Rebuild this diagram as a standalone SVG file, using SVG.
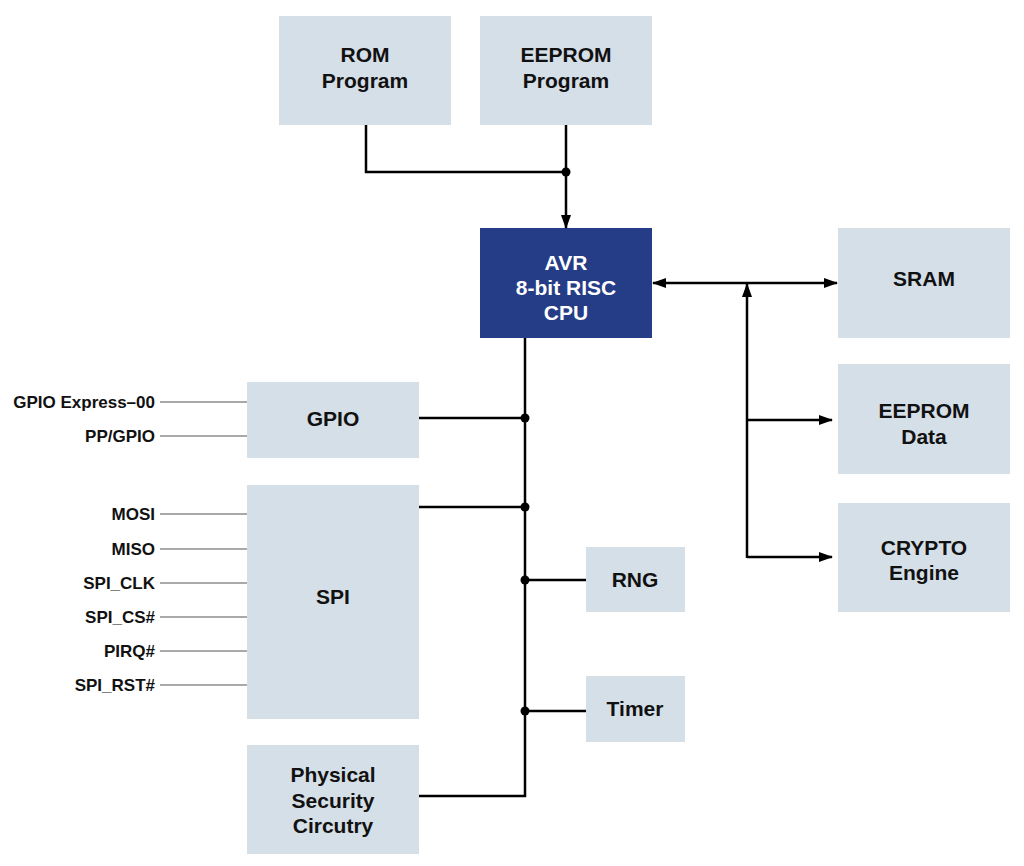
<svg xmlns="http://www.w3.org/2000/svg" width="1024" height="866" viewBox="0 0 1024 866">
<style>
.box{fill:#D5DFE8}
.cpu{fill:#253C87}
.t{font-family:"Liberation Sans",Arial,sans-serif;font-weight:bold;font-size:21px;fill:#111;text-anchor:middle}
.tw{fill:#fff}
.lbl{font-family:"Liberation Sans",Arial,sans-serif;font-weight:bold;font-size:17px;fill:#111;text-anchor:end}
.w{stroke:#000;stroke-width:2.5;fill:none}
.pin{stroke:#555;stroke-width:1.2;fill:none}
</style>
<defs>
<marker id="ah" markerWidth="14" markerHeight="10" refX="13" refY="5" orient="auto-start-reverse" markerUnits="userSpaceOnUse">
<path d="M0,0 L14,5 L0,10 z" fill="#000"/>
</marker>
</defs>
<rect width="1024" height="866" fill="#fff"/>
<g id="rom"><rect class="box" x="279" y="16" width="172" height="109"/><text class="t" x="365" y="62">ROM</text><text class="t" x="365" y="88">Program</text></g>
<g id="eeprom-prog"><rect class="box" x="480" y="16" width="172" height="109"/><text class="t" x="566" y="62">EEPROM</text><text class="t" x="566" y="88">Program</text></g>
<g id="cpu"><rect class="cpu" x="480" y="228" width="172" height="110"/><text class="t tw" x="566" y="270">AVR</text><text class="t tw" x="566" y="295">8-bit RISC</text><text class="t tw" x="566" y="320">CPU</text></g>
<g id="sram"><rect class="box" x="838" y="228" width="172" height="110"/><text class="t" x="924" y="286">SRAM</text></g>
<g id="eeprom-data"><rect class="box" x="838" y="364" width="172" height="110"/><text class="t" x="924" y="418">EEPROM</text><text class="t" x="924" y="444">Data</text></g>
<g id="crypto"><rect class="box" x="838" y="503" width="172" height="109"/><text class="t" x="924" y="555">CRYPTO</text><text class="t" x="924" y="580">Engine</text></g>
<g id="gpio"><rect class="box" x="247" y="382" width="172" height="76"/><text class="t" x="333" y="426">GPIO</text></g>
<g id="spi"><rect class="box" x="247" y="485" width="172" height="234"/><text class="t" x="333" y="604">SPI</text></g>
<g id="rng"><rect class="box" x="586" y="547" width="99" height="65"/><text class="t" x="635" y="587">RNG</text></g>
<g id="timer"><rect class="box" x="586" y="676" width="99" height="66"/><text class="t" x="635" y="716">Timer</text></g>
<g id="phys"><rect class="box" x="247" y="745" width="172" height="109"/><text class="t" x="333" y="782">Physical</text><text class="t" x="333" y="808">Security</text><text class="t" x="333" y="833">Circutry</text></g>
<g id="pins">
<text class="lbl" x="155" y="408">GPIO Express–00</text>
<text class="lbl" x="155" y="442">PP/GPIO</text>
<text class="lbl" x="155" y="520">MOSI</text>
<text class="lbl" x="155" y="555">MISO</text>
<text class="lbl" x="155" y="589">SPI_CLK</text>
<text class="lbl" x="155" y="623">SPI_CS#</text>
<text class="lbl" x="155" y="657">PIRQ#</text>
<text class="lbl" x="155" y="691">SPI_RST#</text>
</g>
<g id="connectors">
<path class="pin" d="M160,402H247M160,436H247M160,514H247M160,549H247M160,583H247M160,617H247M160,651H247M160,685H247"/>
<path class="w" d="M366,125V172H566"/>
<path class="w" d="M566,125V228" marker-end="url(#ah)"/>
<path class="w" d="M653,283H837" marker-start="url(#ah)" marker-end="url(#ah)"/>
<path class="w" d="M747,558V284" marker-end="url(#ah)"/>
<path class="w" d="M747,420H832" marker-end="url(#ah)"/>
<path class="w" d="M747,557H832" marker-end="url(#ah)"/>
<path class="w" d="M525,338V796H419"/>
<path class="w" d="M419,418H525M419,507H525M525,580H586M525,711H586"/>
<g fill="#000"><circle cx="566" cy="172" r="4.5"/><circle cx="525" cy="418" r="4.5"/><circle cx="525" cy="507" r="4.5"/><circle cx="525" cy="580" r="4.5"/><circle cx="525" cy="711" r="4.5"/></g>
</g>
</svg>
